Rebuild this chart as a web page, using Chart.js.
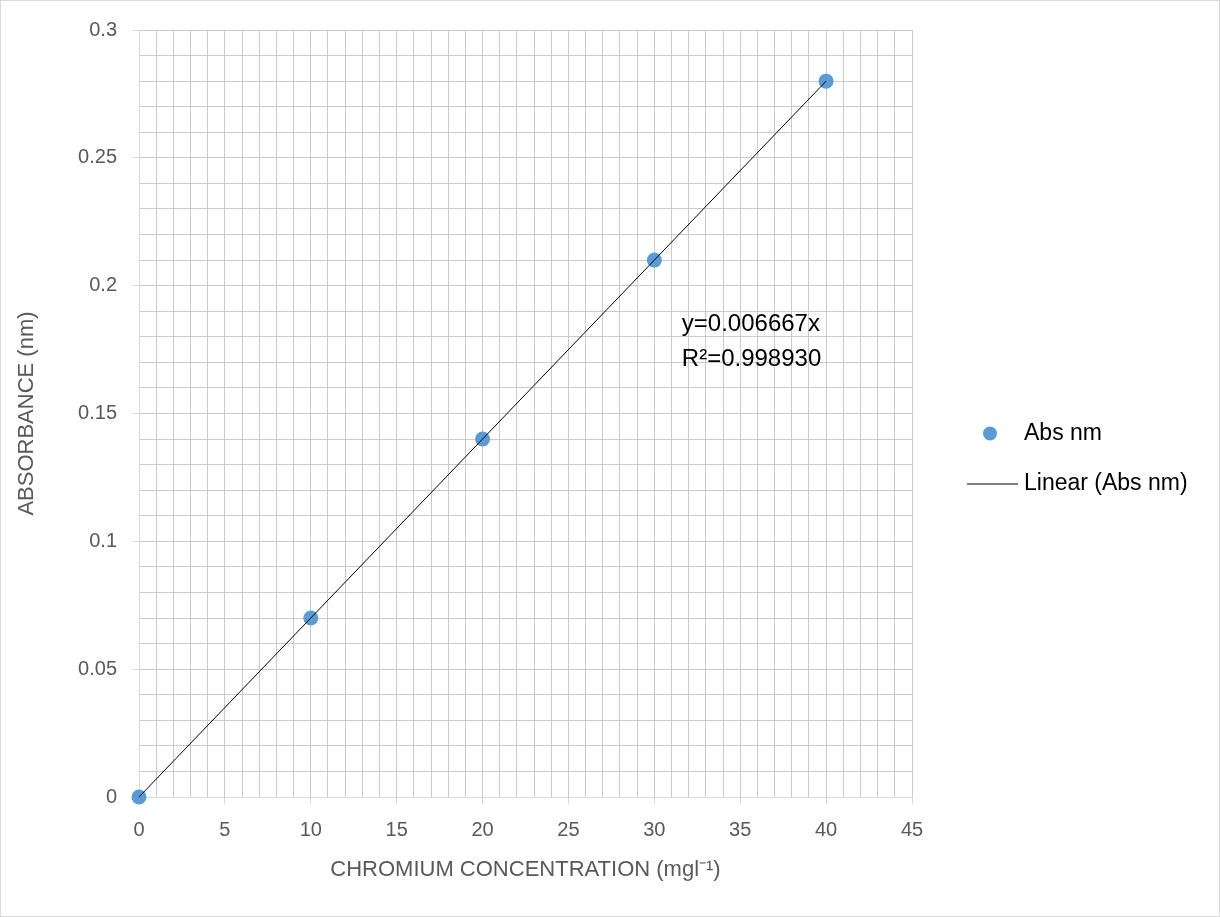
<!DOCTYPE html>
<html>
<head>
<meta charset="utf-8">
<title>Chromium calibration curve</title>
<script src="https://cdn.jsdelivr.net/npm/chart.js@4/dist/chart.umd.min.js"></script>
<style>
  html, body { margin: 0; padding: 0; background: #fff; }
  canvas { display: block; }
</style>
</head>
<body>
<canvas id="calibChart" width="1220" height="917"></canvas>
<script>
  // calibration standards
  const concentrations = [0, 10, 20, 30, 40];
  const absorbances = [0, 0.07, 0.14, 0.21, 0.28];
  const equationLines = ['y=0.006667x', 'R\u00B2=0.998930'];

  const pointLabel = 'Abs nm';
  const trendLabel = 'Linear (Abs nm)';

  // least squares line forced through the origin
  let sxy = 0, sxx = 0;
  concentrations.forEach((x, i) => { sxy += x * absorbances[i]; sxx += x * x; });
  const slope = sxy / sxx;
  const xMin = Math.min(...concentrations);
  const xMax = Math.max(...concentrations);
  const trendPoints = [xMin, xMax].map(x => ({ x: x, y: slope * x }));

  const points = concentrations.map((x, i) => ({ x: x, y: absorbances[i] }));

  const FONT = '"Liberation Sans", Arial, sans-serif';
  const gridColor = '#cacaca';
  const frameColor = '#d9d9d9';
  const textGrey = '#595959';

  // outer frame
  const framePlugin = {
    id: 'frame',
    beforeDraw(chart) {
      const ctx = chart.ctx;
      ctx.save();
      ctx.fillStyle = '#fff';
      ctx.fillRect(0, 0, chart.width, chart.height);
      ctx.strokeStyle = frameColor;
      ctx.lineWidth = 1;
      ctx.strokeRect(0.5, 0.5, chart.width - 1, chart.height - 1);
      ctx.restore();
    }
  };

  // trendline equation text, anchored in data space
  const equationPlugin = {
    id: 'equation',
    afterDatasetsDraw(chart) {
      const ctx = chart.ctx;
      const xs = chart.scales.x, ys = chart.scales.y;
      const left = xs.getPixelForValue(31.6);
      const top = ys.getPixelForValue(0.185);
      ctx.save();
      ctx.fillStyle = '#000';
      ctx.font = '24px ' + FONT;
      ctx.textBaseline = 'middle';
      ctx.fillText(equationLines[0], left, top);
      ctx.fillText(equationLines[1], left, top + 35);
      ctx.restore();
    }
  };

  // legend on the right
  const sideLegend = {
    id: 'sideLegend',
    afterDraw(chart) {
      const ctx = chart.ctx;
      const area = chart.chartArea;
      const cy = (area.top + area.bottom) / 2;
      const textX = area.right + 112;
      ctx.save();
      ctx.font = '23px ' + FONT;
      ctx.textBaseline = 'middle';

      const pts = chart.data.datasets[1];
      ctx.beginPath();
      ctx.arc(area.right + 78, cy + 20, 7, 0, Math.PI * 2);
      ctx.fillStyle = pts.backgroundColor;
      ctx.fill();
      ctx.fillStyle = '#000';
      ctx.fillText(pts.label, textX, cy + 20);

      const tl = chart.data.datasets[0];
      ctx.beginPath();
      ctx.moveTo(area.right + 55, cy + 70.5);
      ctx.lineTo(area.right + 106, cy + 70.5);
      ctx.strokeStyle = tl.borderColor;
      ctx.lineWidth = 1;
      ctx.stroke();
      ctx.fillText(tl.label, textX, cy + 70);
      ctx.restore();
    }
  };

  const majorX = v => v % 5 === 0;
  const majorY = v => Math.round(v * 100) % 5 === 0;

  new Chart(document.getElementById('calibChart'), {
    type: 'scatter',
    data: {
      datasets: [
        {
          label: trendLabel,
          data: trendPoints,
          showLine: true,
          borderColor: '#000',
          borderWidth: 1,
          pointRadius: 0,
          clip: false,
          order: 0
        },
        {
          label: pointLabel,
          data: points,
          backgroundColor: '#5b9bd5',
          borderColor: '#5b9bd5',
          pointRadius: 7.5,
          pointBorderWidth: 0,
          clip: false,
          order: 1
        }
      ]
    },
    options: {
      responsive: false,
      animation: false,
      devicePixelRatio: 1,
      layout: { padding: { top: 30, right: 308, bottom: 0, left: 0 } },
      plugins: {
        legend: { display: false },
        tooltip: { enabled: false }
      },
      scales: {
        x: {
          type: 'linear',
          min: 0,
          max: 45,
          afterFit(scale) { scale.height = 120; },
          border: { color: frameColor },
          grid: {
            color: gridColor,
            tickLength: 7,
            tickColor: c => majorX(c.tick.value) ? frameColor : 'rgba(0,0,0,0)'
          },
          ticks: {
            stepSize: 1,
            autoSkip: false,
            maxRotation: 0,
            padding: 14,
            color: textGrey,
            font: { family: FONT, size: 20 },
            callback: v => majorX(v) ? String(v) : ''
          },
          title: {
            display: true,
            text: 'CHROMIUM CONCENTRATION (mgl\u207B\u00B9)',
            color: textGrey,
            font: { family: FONT, size: 22 },
            padding: { top: 0, bottom: 34 }
          }
        },
        y: {
          type: 'linear',
          min: 0,
          max: 0.3,
          afterFit(scale) { scale.width = 139; },
          border: { color: frameColor },
          grid: {
            color: gridColor,
            tickLength: 7,
            tickColor: c => majorY(c.tick.value) ? frameColor : 'rgba(0,0,0,0)'
          },
          ticks: {
            stepSize: 0.01,
            autoSkip: false,
            maxTicksLimit: 100,
            padding: 15,
            color: textGrey,
            font: { family: FONT, size: 20 },
            callback: v => majorY(v) ? String(Number(v.toFixed(2))) : ''
          },
          title: {
            display: true,
            text: 'ABSORBANCE (nm)',
            color: textGrey,
            font: { family: FONT, size: 22 },
            padding: { top: 14, bottom: 0 }
          }
        }
      }
    },
    plugins: [framePlugin, equationPlugin, sideLegend]
  });
</script>
</body>
</html>
